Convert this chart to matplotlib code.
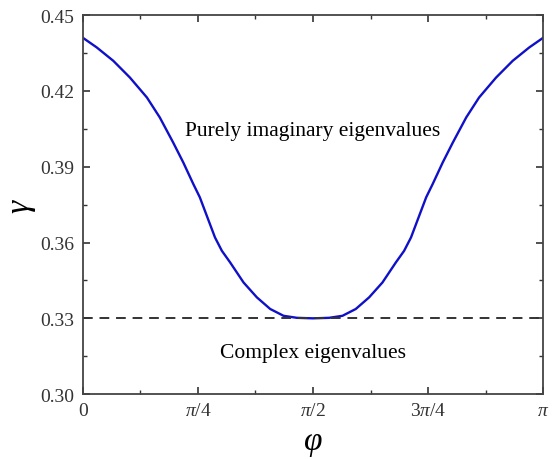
import numpy as np
import matplotlib
matplotlib.use("Agg")
import matplotlib.pyplot as plt

plt.rcParams['font.family'] = ['Liberation Serif', 'DejaVu Serif']
plt.rcParams['mathtext.fontset'] = 'custom'
plt.rcParams['mathtext.rm'] = 'Liberation Serif'
plt.rcParams['mathtext.it'] = 'Liberation Serif:italic'

# left half of the curve, phi in units of pi
phi_half = [0.0, 0.030, 0.066, 0.102, 0.139, 0.167, 0.196, 0.218, 0.240,
            0.254, 0.265, 0.276, 0.287, 0.302, 0.320, 0.349, 0.378, 0.407,
            0.436, 0.465, 0.5]
gamma_half = [0.4410, 0.4372, 0.4319, 0.4253, 0.4174, 0.4095, 0.3996, 0.3917,
              0.3831, 0.3779, 0.3726, 0.3673, 0.3620, 0.3567, 0.3521, 0.3442,
              0.3383, 0.3337, 0.3310, 0.3302, 0.3300]

# curve is symmetric about pi/2
phi = np.array(phi_half + [1 - p for p in phi_half[-2::-1]]) * np.pi
gamma = np.array(gamma_half + gamma_half[-2::-1])

threshold = 0.33
xticks = [0, np.pi / 4, np.pi / 2, 3 * np.pi / 4, np.pi]
xlabels = ['0', r'$\pi$/4', r'$\pi$/2', r'3$\pi$/4', r'$\pi$']
yticks = [0.30, 0.33, 0.36, 0.39, 0.42, 0.45]

fig = plt.figure(figsize=(5.53, 4.6), dpi=100)
ax = fig.add_axes([0.150, 0.141, 0.832, 0.824])

ax.plot(phi, gamma, color='#1010c8', lw=1.7)
ax.axhline(threshold, color='#333333', lw=1.4, ls=(0, (5, 3.5)))

ax.text(np.pi / 2, 0.4045, 'Purely imaginary eigenvalues', ha='center', va='center', fontsize=15.5)
ax.text(np.pi / 2, 0.3165, 'Complex eigenvalues', ha='center', va='center', fontsize=15.5)

ax.set_xlim(0, np.pi)
ax.set_ylim(0.30, 0.45)
ax.set_xticks(xticks)
ax.set_xticklabels(xlabels)
ax.set_xticks([np.pi / 8, 3 * np.pi / 8, 5 * np.pi / 8, 7 * np.pi / 8], minor=True)
ax.set_yticks(yticks)
ax.set_yticklabels(['%.2f' % v for v in yticks])
ax.set_yticks(np.arange(0.315, 0.45, 0.03), minor=True)

ax.tick_params(which='both', direction='in', top=True, right=True, labelsize=14,
               color='#333333', colors='#333333')
ax.tick_params(which='major', length=5, width=1.2)
ax.tick_params(which='minor', length=3, width=1.0)
ax.tick_params(axis='x', which='major', pad=6)
ax.tick_params(axis='y', which='major', pad=6)
for s in ax.spines.values():
    s.set_color('#444444')
    s.set_linewidth(1.3)

ax.set_xlabel(r'$\varphi$', fontsize=24, labelpad=6)
ax.set_ylabel(r'$\gamma$', fontsize=24, labelpad=2)

fig.savefig('out.png', dpi=100)
